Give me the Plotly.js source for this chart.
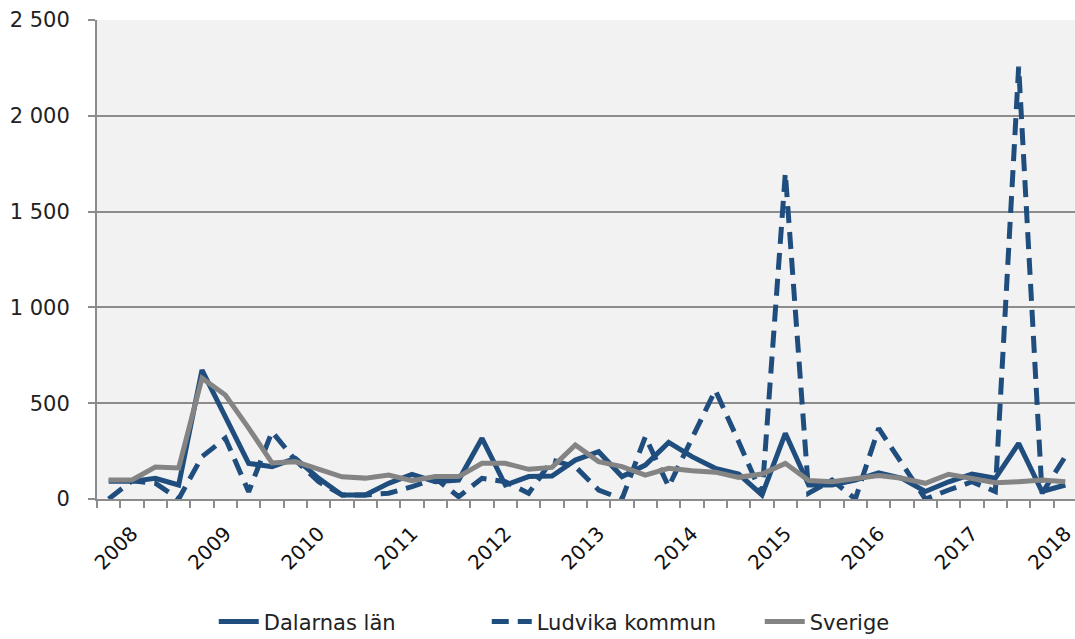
<!DOCTYPE html>
<html>
<head>
<meta charset="utf-8">
<script src="https://cdn.plot.ly/plotly-3.0.1.min.js"></script>
<style>
html,body{margin:0;padding:0;background:#fff;overflow:hidden;}
#wrap{width:1075px;height:639px;overflow:hidden;}
#chart{width:1078px;height:639px;}
</style>
</head>
<body>
<div id="wrap"><div id="chart"></div></div>
<script>
// Quarters 2007 K4 .. 2018 K1
const quarters = [];
quarters.push("2007 K4");
for (let y = 2008; y <= 2017; y++) { for (let q = 1; q <= 4; q++) quarters.push(y + " K" + q); }
quarters.push("2018 K1");

const yearLabels = ["2008","2009","2010","2011","2012","2013","2014","2015","2016","2017","2018"];

const dalarnas = [92, 92, 108, 73, 673, 430, 186, 169, 212, 108, 21, 21, 82, 128,
  90, 99, 317, 73, 117, 120, 203, 247, 117, 177, 295, 221, 160, 130,
  21, 343, 73, 73, 99, 137, 108, 39, 90, 130, 108, 290, 39, 73];

const ludvika = [0, 95, 82, 0, 221, 317, 38, 351, 203, 90, 21, 21, 30, 64,
  108, 12, 108, 90, 30, 203, 169, 47, 0, 325, 65, 317, 568, 299,
  21, 1701, 30, 99, 0, 369, 186, 0, 47, 90, 39, 2256, 30, 222];

const sverige = [99, 99, 167, 162, 631, 543, 370, 188, 195, 157, 116, 109, 125, 95,
  117, 117, 186, 186, 155, 165, 282, 195, 169, 125, 160, 148, 140, 113,
  130, 186, 96, 90, 104, 122, 108, 82, 129, 108, 85, 90, 99, 90];

const seriesNames = ["Dalarnas län", "Ludvika kommun", "Sverige"];

const tickText = quarters.map(q => q.endsWith("K1") ? q.slice(0,4) : "");

const blue = "#1f4e7e";
const gray = "#848484";

const traces = [
  {x: quarters, y: dalarnas, name: seriesNames[0], type: "scatter", mode: "lines",
   line: {color: blue, width: 5}},
  {x: quarters, y: ludvika, name: seriesNames[1], type: "scatter", mode: "lines",
   line: {color: blue, width: 5, dash: "17px,9px"}},
  {x: quarters, y: sverige, name: seriesNames[2], type: "scatter", mode: "lines",
   line: {color: gray, width: 5}}
];

const font = "DejaVu Sans, sans-serif";

const layout = {
  width: 1078, height: 639,
  margin: {l: 97, r: 1, t: 20, b: 140},
  paper_bgcolor: "#ffffff",
  plot_bgcolor: "#f2f2f2",
  separators: ", ",
  showlegend: true,
  legend: {orientation: "h", xref: "paper", x: 0.537, xanchor: "center",
           yref: "container", y: 0.027, yanchor: "middle",
           font: {family: font, size: 21, color: "#222"}, traceorder: "normal",
           itemwidth: 40, entrywidth: 218, entrywidthmode: "pixels", tracegroupgap: 0},
  xaxis: {
    type: "category",
    categoryorder: "array", categoryarray: quarters,
    tickmode: "array", tickvals: quarters, ticktext: tickText,
    tickson: "boundaries",
    ticks: "outside", ticklen: 7, tickwidth: 2, tickcolor: "#8c8c8c",
    tickangle: -45,
    ticklabelstandoff: 13,
    automargin: false,
    tickfont: {family: font, size: 20, color: "#111"},
    showline: true, linecolor: "#8c8c8c", linewidth: 2,
    showgrid: false, zeroline: false,
    range: [-0.5, quarters.length - 0.5]
  },
  yaxis: {
    range: [0, 2500],
    tickvals: [0, 500, 1000, 1500, 2000, 2500],
    separatethousands: true,
    automargin: false,
    ticks: "outside", ticklen: 7, tickwidth: 2, tickcolor: "#8c8c8c",
    ticklabelstandoff: 14,
    tickfont: {family: font, size: 21, color: "#222"},
    showline: true, linecolor: "#8c8c8c", linewidth: 2,
    showgrid: true, gridcolor: "#8c8c8c", gridwidth: 2,
    zeroline: false
  }
};

Plotly.newPlot("chart", traces, layout, {displayModeBar: false, staticPlot: true});
</script>
</body>
</html>
